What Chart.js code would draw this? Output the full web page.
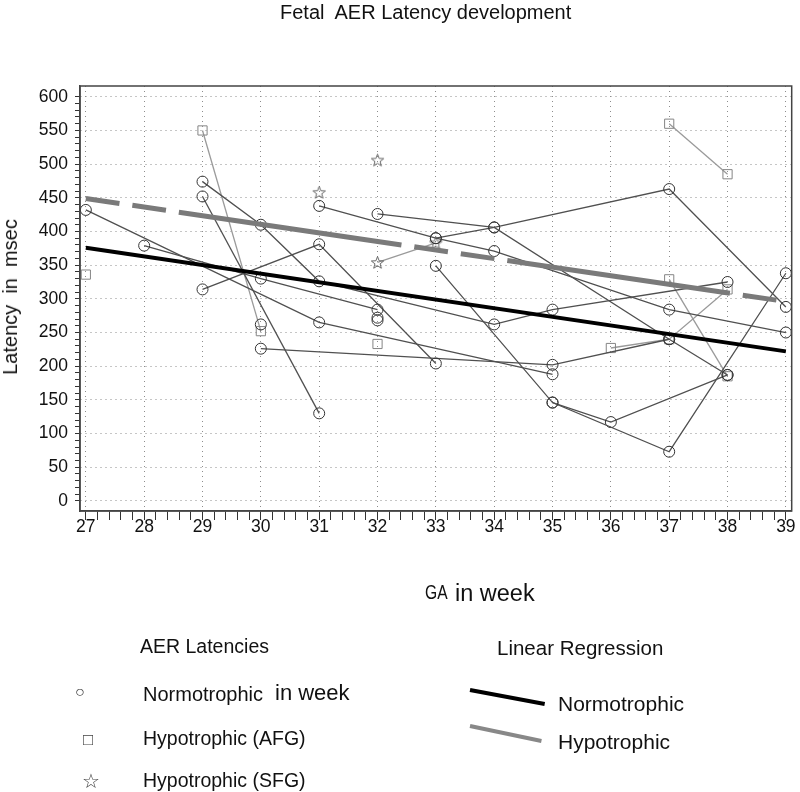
<!DOCTYPE html>
<html>
<head>
<meta charset="utf-8">
<script src="https://cdn.jsdelivr.net/npm/chart.js@4.4.1/dist/chart.umd.min.js"></script>
<style>
  body { margin: 0; background: #fff; }
  #wrap { position: relative; width: 800px; height: 792px; font-family: "Liberation Sans", Arial, sans-serif; color: #111; }
  #wrap canvas { position: absolute; left: 0; top: 0; }
  .t { position: absolute; white-space: pre; line-height: 1; }
  .ln { position: absolute; height: 4px; transform-origin: 0 50%; }
</style>
</head>
<body>
<div id="wrap">
  <canvas id="aerChart" width="800" height="792"></canvas>

  <div class="t" style="left:280px; top:2px; font-size:20px;">Fetal  AER Latency development</div>
  <div class="t" style="left:10px; top:297px; font-size:20px; transform: translate(-50%, -50%) rotate(-90deg);">Latency  in  msec</div>
  <div class="t" style="left:425px; top:582px; font-size:20px; transform: scaleX(0.78); transform-origin: 0 0;">GA</div>
  <div class="t" style="left:455px; top:582px; font-size:23.5px;">in week</div>

  <div class="t" style="left:140px; top:637px; font-size:19.5px;">AER Latencies</div>
  <div class="t" style="left:75px; top:684px; font-size:16px; color:#444;">○</div>
  <div class="t" style="left:143px; top:684px; font-size:20px;">Normotrophic</div>
  <div class="t" style="left:275px; top:682px; font-size:22px;">in week</div>
  <div class="t" style="left:83px; top:731px; font-size:17px; color:#444;">□</div>
  <div class="t" style="left:143px; top:729px; font-size:19.5px;">Hypotrophic (AFG)</div>
  <div class="t" style="left:82px; top:771px; font-size:20px; color:#444;">☆</div>
  <div class="t" style="left:143px; top:771px; font-size:19.5px;">Hypotrophic (SFG)</div>

  <div class="t" style="left:497px; top:638px; font-size:20.5px;">Linear Regression</div>
  <div class="ln" style="left:470px; top:688px; width:76px; background:#000; transform: rotate(10.6deg);"></div>
  <div class="t" style="left:558px; top:693px; font-size:21px;">Normotrophic</div>
  <div class="ln" style="left:470px; top:724px; width:73px; background:#888; transform: rotate(11.9deg);"></div>
  <div class="t" style="left:558px; top:731px; font-size:21px;">Hypotrophic</div>
</div>

<script>
// axis labels
const weeks = [27, 28, 29, 30, 31, 32, 33, 34, 35, 36, 37, 38, 39];
const latencyLabels = [0, 50, 100, 150, 200, 250, 300, 350, 400, 450, 500, 550, 600];

// linear regression (GA week, latency msec)
const regNormo = [[27, 376], [39, 222]];
const regHypo = [[27, 449], [39, 296]];

// normotrophic fetuses, one array per fetus
const normo1 = [[27, 432], [31, 265], [35, 188]];
const normo2 = [[28, 379], [30, 330], [32, 284]];
const normo3 = [[29, 474], [30, 410], [31, 326], [34, 262], [35, 284], [38, 325]];
const normo4 = [[29, 452], [31, 130]];
const normo5 = [[29, 314], [31, 381], [33, 204]];
const normo6 = [[30, 226], [35, 202], [37, 240]];
const normo7 = [[31, 438], [33, 390], [34, 371], [37, 284], [39, 250]];
const normo8 = [[32, 426], [34, 406], [37, 240], [38, 187]];
const normo9 = [[33, 390], [34, 406], [37, 463], [39, 288]];
const normo10 = [[33, 349], [35, 146], [37, 73], [39, 338]];
const normo11 = [[35, 146], [36, 117], [38, 187]];
const normoSingle = [[30, 262], [32, 272], [32, 268]];

// hypotrophic AFG
const afg1 = [[27, 336]];
const afg2 = [[29, 550], [30, 252]];
const afg3 = [[32, 233]];
const afg4 = [[36, 227], [37, 240], [38, 314]];
const afg5 = [[37, 560], [38, 485]];
const afg6 = [[37, 329], [38, 185]];

// hypotrophic SFG
const sfg1 = [[31, 458]];
const sfg2 = [[32, 506]];
const sfg3 = [[32, 354], [33, 383]];

const FONT = '"Liberation Sans", Arial, sans-serif';

function pts(arr) {
    return arr.map(p => ({x: p[0], y: p[1]}));
}

function makeStar(size, color) {
    let c = document.createElement('canvas');
    c.width = size;
    c.height = size;
    let g = c.getContext('2d');
    let cx = size / 2, cy = size / 2 + 0.5, R = size / 2 - 1, r = R * 0.42;
    g.beginPath();
    for (let i = 0; i < 10; i++) {
        let a = -Math.PI / 2 + i * Math.PI / 5;
        let rad = i % 2 ? r : R;
        g.lineTo(cx + rad * Math.cos(a), cy + rad * Math.sin(a));
    }
    g.closePath();
    g.strokeStyle = color;
    g.lineWidth = 1;
    g.stroke();
    return c;
}
const starImg = makeStar(15, '#666');

function normoSet(arr, lines) {
    return {
        data: pts(arr), showLine: lines !== false, borderColor: '#505050', borderWidth: 1.3,
        pointStyle: 'circle', pointRadius: 5.5, pointBorderColor: '#333', pointBorderWidth: 1,
        pointBackgroundColor: 'rgba(0,0,0,0)'
    };
}
function afgSet(arr) {
    return {
        data: pts(arr), showLine: true, borderColor: '#9a9a9a', borderWidth: 1.3,
        pointStyle: 'rect', pointRadius: 6.5, pointBorderColor: '#858585', pointBorderWidth: 1,
        pointBackgroundColor: 'rgba(0,0,0,0)'
    };
}
function sfgSet(arr) {
    return {
        data: pts(arr), showLine: true, borderColor: '#9a9a9a', borderWidth: 1.3,
        pointStyle: starImg, pointRadius: 7
    };
}

// minor tick positions
let xTicks = [];
for (let i = 0; i <= (weeks.length - 1) * 5; i++) xTicks.push(Math.round((weeks[0] + i * 0.2) * 10) / 10);
let yTicks = [];
for (let v = 0; v <= 600; v += 10) yTicks.push(v);

const isWeek = v => Math.abs(v - Math.round(v)) < 1e-6 && weeks.includes(Math.round(v));
const isLabel = v => latencyLabels.includes(v);

const frame = {
    id: 'frame',
    afterDatasetsDraw(chart) {
        let {ctx, chartArea: a} = chart;
        ctx.save();
        ctx.strokeStyle = '#444';
        ctx.lineWidth = 1.5;
        ctx.strokeRect(a.left, a.top, a.right - a.left, a.bottom - a.top);
        ctx.restore();
    }
};

let ctx = document.getElementById('aerChart').getContext('2d');
let aerChart = new Chart(ctx, {
    type: 'scatter',
    data: {
        datasets: [
            {data: pts(regNormo), showLine: true, borderColor: '#000', borderWidth: 4, pointRadius: 0},
            {data: pts(regHypo), showLine: true, borderColor: '#7a7a7a', borderWidth: 5, pointRadius: 0,
             borderDash: [34, 13, 34, 13, 225, 13], borderCapStyle: 'butt'},
            normoSet(normo1), normoSet(normo2), normoSet(normo3), normoSet(normo4),
            normoSet(normo5), normoSet(normo6), normoSet(normo7), normoSet(normo8),
            normoSet(normo9), normoSet(normo10), normoSet(normo11), normoSet(normoSingle, false),
            afgSet(afg1), afgSet(afg2), afgSet(afg3), afgSet(afg4), afgSet(afg5), afgSet(afg6),
            sfgSet(sfg1), sfgSet(sfg2), sfgSet(sfg3)
        ]
    },
    options: {
        responsive: false,
        animation: false,
        events: [],
        layout: {padding: {top: 86, right: 4, left: 0, bottom: 0}},
        plugins: {legend: {display: false}, tooltip: {enabled: false}, title: {display: false}},
        scales: {
            x: {
                type: 'linear', min: 26.9, max: 39.1,
                afterBuildTicks: s => { s.ticks = xTicks.map(v => ({value: v})); },
                afterFit: s => { s.height = 281; s.paddingLeft = 0; s.paddingRight = 0; },
                grid: {
                    color: c => (c.tick && isWeek(c.tick.value)) ? '#8c8c8c' : 'rgba(0,0,0,0)',
                    tickColor: '#333', tickLength: 9, lineWidth: 1
                },
                border: {color: '#444', width: 1.5, dash: [1, 4]},
                ticks: {
                    autoSkip: false, maxRotation: 0, padding: -3, color: '#111',
                    font: {family: FONT, size: 17.5},
                    callback: v => isWeek(v) ? String(Math.round(v)) : ''
                }
            },
            y: {
                type: 'linear', min: -15, max: 616,
                afterBuildTicks: s => { s.ticks = yTicks.map(v => ({value: v})); },
                afterFit: s => { s.width = 80; s.paddingTop = 0; s.paddingBottom = 0; },
                grid: {
                    color: c => (c.tick && isLabel(c.tick.value)) ? '#8c8c8c' : 'rgba(0,0,0,0)',
                    tickColor: '#333', tickLength: 5, lineWidth: 1
                },
                border: {color: '#444', width: 1.5, dash: [1, 4]},
                ticks: {
                    autoSkip: false, padding: 7, color: '#111',
                    font: {family: FONT, size: 17.5},
                    callback: v => isLabel(v) ? String(v) : ''
                }
            }
        }
    },
    plugins: [frame]
});
</script>
</body>
</html>
